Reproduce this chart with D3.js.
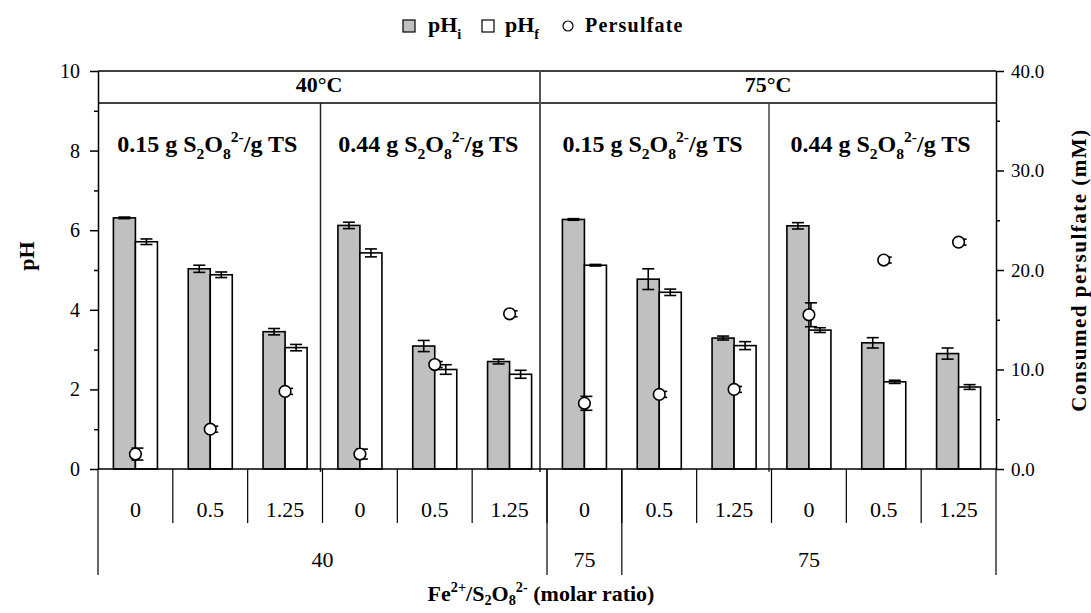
<!DOCTYPE html>
<html>
<head>
<meta charset="utf-8">
<script src="https://cdn.jsdelivr.net/npm/d3@7"></script>
<style>
  html, body { margin: 0; padding: 0; background: #fff; }
  svg { display: block; font-family: "Liberation Serif", "Times New Roman", serif; }
</style>
</head>
<body>
<svg id="chart" width="1091" height="613"></svg>
<script>
// Fe2+/S2O8 2- molar ratio for each of the 12 experiments
const ratios = ["0", "0.5", "1.25", "0", "0.5", "1.25", "0", "0.5", "1.25", "0", "0.5", "1.25"];
// second-level axis groups (temperature) and how many ratios each one spans
const groupLabels = ["40", "75", "75"];
const groupSpans = [6, 1, 5];
// temperature panels and persulfate dose panels
const tempHeaders = ["40°C", "75°C"];
const doses = ["0.15", "0.44", "0.15", "0.44"];

// initial and final pH with standard deviations
const pHi = [6.31, 5.03, 3.45, 6.12, 3.09, 2.70, 6.27, 4.77, 3.29, 6.11, 3.17, 2.90];
const pHiErr = [0.02, 0.09, 0.08, 0.08, 0.14, 0.06, 0.02, 0.26, 0.05, 0.08, 0.13, 0.14];
const pHf = [5.71, 4.88, 3.05, 5.43, 2.50, 2.38, 5.12, 4.44, 3.10, 3.49, 2.19, 2.06];
const pHfErr = [0.07, 0.07, 0.08, 0.10, 0.12, 0.10, 0.02, 0.08, 0.10, 0.06, 0.04, 0.06];
// consumed persulfate (mM) with standard deviations
const persulfate = [1.5, 4.0, 7.8, 1.5, 10.5, 15.6, 6.6, 7.5, 8.0, 15.5, 21.0, 22.8];
const persErr = [0.6, 0.3, 0.3, 0.5, 0.3, 0.3, 0.7, 0.3, 0.3, 1.2, 0.3, 0.3];

// axis ticks
const pHTicks = [0, 2, 4, 6, 8, 10];
const pHMinor = [1, 3, 5, 7, 9];
const persTicks = [0, 10, 20, 30, 40];
const persMinor = [5, 15, 25, 35];

const svg = d3.select("#chart");
const plotL = 98, plotR = 996, plotT = 71, plotB = 469, headerY = 103;

const idx = d3.range(ratios.length);
const x = d3.scaleBand().domain(idx).range([plotL, plotR]).padding(0);
const bw = x.bandwidth();
const x1 = d3.scaleBand().domain(["pHi", "pHf"]).range([15.4, bw - 15.4]);
const y = d3.scaleLinear().domain([0, 10]).range([plotB, plotT]);
const y2 = d3.scaleLinear().domain([0, 40]).range([plotB, plotT]);

// text with sub/superscript runs
function rich(sel, parts, size, subShift = 0.3) {
  let cur = 0;
  parts.forEach(([t, k]) => {
    const target = k === "sub" ? size * subShift : k === "sup" ? -size * 0.42 : 0;
    sel.append("tspan")
      .attr("dy", target - cur)
      .attr("font-size", k ? size * 0.65 : size)
      .text(t);
    cur = target;
  });
  return sel;
}

// ---- frame, header band and panel dividers
const frame = svg.append("g").attr("stroke", "#000").attr("stroke-width", 1.5);
frame.append("line").attr("x1", plotL).attr("x2", plotR).attr("y1", plotT).attr("y2", plotT);
frame.append("line").attr("x1", plotL).attr("x2", plotR).attr("y1", headerY).attr("y2", headerY);

const dividers = [
  { x: x(3) - 2, y1: headerY, stroke: "#222" },
  { x: x(6) - 7, y1: plotT, stroke: "#555", w: 2 },
  { x: x(9) - 2.5, y1: headerY, stroke: "#444" }
];
svg.append("g").selectAll("line").data(dividers).join("line")
  .attr("x1", d => d.x).attr("x2", d => d.x)
  .attr("y1", d => d.y1).attr("y2", plotB + 3)
  .attr("stroke", d => d.stroke).attr("stroke-width", d => d.w || 1.5);

const panelEdges = [plotL, x(3) - 2, x(6) - 7, x(9) - 2.5, plotR];
svg.append("g").selectAll("text").data(tempHeaders).join("text")
  .attr("x", (d, i) => (panelEdges[i * 2] + panelEdges[i * 2 + 2]) / 2)
  .attr("y", 92)
  .attr("text-anchor", "middle").attr("font-weight", "bold").attr("font-size", 22)
  .text(d => d);

svg.append("g").selectAll("text").data(doses).join("text")
  .attr("x", (d, i) => (panelEdges[i] + panelEdges[i + 1]) / 2 - 2)
  .attr("y", 152)
  .attr("text-anchor", "middle").attr("font-weight", "bold")
  .each(function (d) {
    rich(d3.select(this), [[d + " g S"], ["2", "sub"], ["O"], ["8", "sub"], ["2-", "sup"], ["/g TS"]], 24);
  });

// ---- bars
const bars = svg.append("g");
bars.selectAll("rect.pHi").data(idx).join("rect")
  .attr("class", "pHi")
  .attr("x", i => x(i) + x1("pHi")).attr("width", x1.bandwidth())
  .attr("y", i => y(pHi[i])).attr("height", i => y(0) - y(pHi[i]))
  .attr("fill", "#c0c0c0").attr("stroke", "#000").attr("stroke-width", 1.6);
bars.selectAll("rect.pHf").data(idx).join("rect")
  .attr("class", "pHf")
  .attr("x", i => x(i) + x1("pHf")).attr("width", x1.bandwidth())
  .attr("y", i => y(pHf[i])).attr("height", i => y(0) - y(pHf[i]))
  .attr("fill", "#fff").attr("stroke", "#000").attr("stroke-width", 1.6);

// ---- error bars
function errorBars(g, cx, lo, hi, cap) {
  const e = g.append("g").attr("stroke", "#000").attr("stroke-width", 1.6);
  idx.forEach(i => {
    const X = cx(i), Y1 = lo(i), Y2 = hi(i);
    e.append("line").attr("x1", X).attr("x2", X).attr("y1", Y1).attr("y2", Y2);
    e.append("line").attr("x1", X - cap).attr("x2", X + cap).attr("y1", Y1).attr("y2", Y1);
    e.append("line").attr("x1", X - cap).attr("x2", X + cap).attr("y1", Y2).attr("y2", Y2);
  });
}
errorBars(svg, i => x(i) + x1("pHi") + x1.bandwidth() / 2,
  i => y(pHi[i] - pHiErr[i]), i => y(pHi[i] + pHiErr[i]), 6);
errorBars(svg, i => x(i) + x1("pHf") + x1.bandwidth() / 2,
  i => y(pHf[i] - pHfErr[i]), i => y(pHf[i] + pHfErr[i]), 6);

// ---- persulfate points on the secondary axis
const cxP = i => x(i) + bw / 2;
errorBars(svg, i => cxP(i) + 2,
  i => y2(persulfate[i] - persErr[i]), i => y2(persulfate[i] + persErr[i]), 6);
svg.append("g").selectAll("circle").data(idx).join("circle")
  .attr("cx", cxP).attr("cy", i => y2(persulfate[i])).attr("r", 5.8)
  .attr("fill", "#fff").attr("stroke", "#000").attr("stroke-width", 1.6);

// ---- axes
const yAxis = svg.append("g").attr("transform", `translate(${plotL},0)`)
  .call(d3.axisLeft(y).tickValues(pHTicks).tickSize(8).tickSizeOuter(0).tickPadding(10).tickFormat(d3.format("d")));
svg.append("g").attr("transform", `translate(${plotL},0)`)
  .call(d3.axisLeft(y).tickValues(pHMinor).tickSize(4).tickFormat(""))
  .select(".domain").remove();
yAxis.selectAll("text").attr("font-size", 20).attr("font-family", "Liberation Serif").attr("fill", "#000");

const y2Axis = svg.append("g").attr("transform", `translate(${plotR},0)`)
  .call(d3.axisRight(y2).tickValues(persTicks).tickSize(8).tickSizeOuter(0).tickPadding(7).tickFormat(d3.format(".1f")));
svg.append("g").attr("transform", `translate(${plotR},0)`)
  .call(d3.axisRight(y2).tickValues(persMinor).tickSize(4).tickFormat(""))
  .select(".domain").remove();
y2Axis.selectAll("text").attr("font-size", 19).attr("font-family", "Liberation Serif").attr("fill", "#000");

svg.selectAll(".domain, .tick line").attr("stroke", "#000").attr("stroke-width", 1.5);

// bottom axis line
svg.append("line").attr("x1", plotL).attr("x2", plotR).attr("y1", plotB).attr("y2", plotB)
  .attr("stroke", "#000").attr("stroke-width", 1.5);

// ---- categorical x axis: ratio row and temperature row
const xg = svg.append("g");
xg.selectAll("line.cat").data(d3.range(1, ratios.length)).join("line")
  .attr("class", "cat")
  .attr("x1", i => x(i)).attr("x2", i => x(i))
  .attr("y1", plotB).attr("y2", 523)
  .attr("stroke", "#000").attr("stroke-width", 1.2);
xg.selectAll("text.cat").data(idx).join("text")
  .attr("class", "cat")
  .attr("x", i => x(i) + bw / 2).attr("y", 517)
  .attr("text-anchor", "middle").attr("font-size", 22)
  .text(i => ratios[i]);

const groupStarts = groupSpans.map((s, k) => d3.sum(groupSpans.slice(0, k)));
const groupBounds = [...groupStarts, ratios.length];
const edgeX = k => k === ratios.length ? plotR : x(k);
xg.selectAll("line.grp").data(groupBounds).join("line")
  .attr("class", "grp")
  .attr("x1", edgeX).attr("x2", edgeX)
  .attr("y1", plotB).attr("y2", 575)
  .attr("stroke", "#000").attr("stroke-width", 1.2);
xg.selectAll("text.grp").data(groupLabels).join("text")
  .attr("class", "grp")
  .attr("x", (d, k) => (edgeX(groupStarts[k]) + edgeX(groupStarts[k] + groupSpans[k])) / 2)
  .attr("y", 567)
  .attr("text-anchor", "middle").attr("font-size", 22)
  .text(d => d);

// ---- axis titles
rich(svg.append("text").attr("x", (plotL + plotR) / 2 - 6).attr("y", 601)
  .attr("text-anchor", "middle").attr("font-weight", "bold"),
  [["Fe"], ["2+", "sup"], ["/S"], ["2", "sub"], ["O"], ["8", "sub"], ["2-", "sup"], [" (molar ratio)"]], 22, 0.2);

svg.append("text")
  .attr("transform", `translate(34,${(plotT + plotB) / 2 - 14}) rotate(-90)`)
  .attr("text-anchor", "middle").attr("font-weight", "bold").attr("font-size", 22)
  .text("pH");

svg.append("text")
  .attr("transform", `translate(1086,${(plotT + plotB) / 2}) rotate(-90)`)
  .attr("text-anchor", "middle").attr("font-weight", "bold").attr("font-size", 21)
  .attr("letter-spacing", 1.5)
  .text("Consumed persulfate (mM)");

// ---- legend
const lg = svg.append("g").attr("font-weight", "bold");
lg.append("rect").attr("x", 403).attr("y", 20).attr("width", 12).attr("height", 12)
  .attr("fill", "#c0c0c0").attr("stroke", "#000").attr("stroke-width", 1.2);
rich(lg.append("text").attr("x", 428).attr("y", 32), [["pH"], ["i", "sub"]], 22);
lg.append("rect").attr("x", 482).attr("y", 20).attr("width", 12).attr("height", 12)
  .attr("fill", "#fff").attr("stroke", "#000").attr("stroke-width", 1.2);
rich(lg.append("text").attr("x", 505).attr("y", 32), [["pH"], ["f", "sub"]], 22);
lg.append("circle").attr("cx", 568).attr("cy", 26).attr("r", 5)
  .attr("fill", "#fff").attr("stroke", "#000").attr("stroke-width", 1.2);
lg.append("text").attr("x", 585).attr("y", 32).attr("font-size", 20).attr("letter-spacing", 1.2)
  .text("Persulfate");
</script>
</body>
</html>
